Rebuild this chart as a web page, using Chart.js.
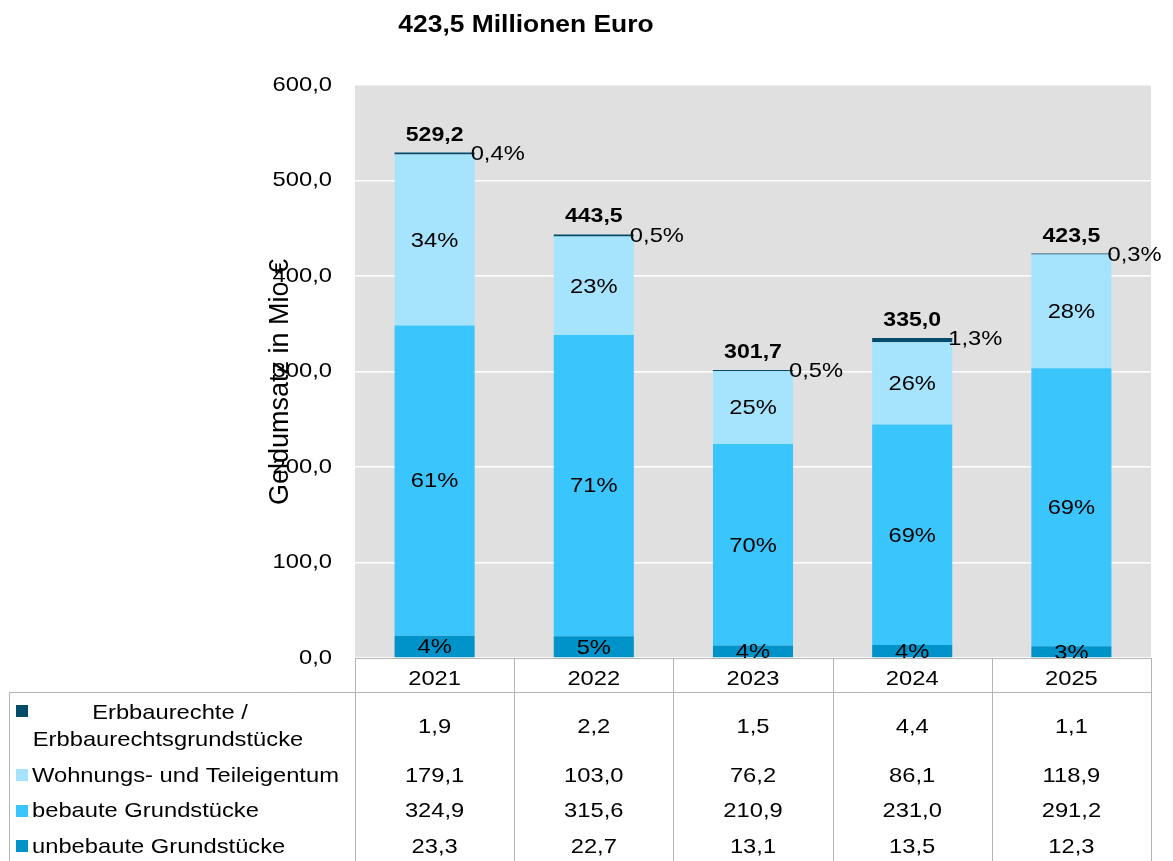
<!DOCTYPE html>
<html>
<head>
<meta charset="utf-8">
<script src="https://cdn.jsdelivr.net/npm/chart.js@4/dist/chart.umd.min.js"></script>
<style>
html,body{margin:0;padding:0;background:#fff;}
#wrap{width:1173px;height:861px;position:relative;}
</style>
</head>
<body>
<div id="wrap"><canvas id="c" width="1173" height="861"></canvas></div>
<script>
// ---- data ----
const categories = ['2021', '2022', '2023', '2024', '2025'];
const erbbaurechte = [1.9, 2.2, 1.5, 4.4, 1.1];
const wohnungseigentum = [179.1, 103.0, 76.2, 86.1, 118.9];
const bebaut = [324.9, 315.6, 210.9, 231.0, 291.2];
const unbebaut = [23.3, 22.7, 13.1, 13.5, 12.3];
const seriesNames = ['Erbbaurechte / Erbbaurechtsgrundstücke', 'Wohnungs- und Teileigentum', 'bebaute Grundstücke', 'unbebaute Grundstücke'];
const chartTitle = '423,5 Millionen Euro';
const yAxisTitle = 'Geldumsatz in Mio €';
const yMin = 0, yMax = 600, yStep = 100;

const FONT = '"Liberation Sans", Arial, sans-serif';
const COLORS = { erb: '#034b68', woh: '#a6e4fd', beb: '#3ac5fd', unb: '#0093c9' };
const fmt = v => v.toFixed(1).replace('.', ',');
const SX = 1.13; // horizontal text stretch seen in the reference

const totals = categories.map((_, i) => erbbaurechte[i] + wohnungseigentum[i] + bebaut[i] + unbebaut[i]);

// draw horizontally stretched text
function sText(ctx, text, x, y, align, font, baseline, sx) {
  sx = sx || SX;
  ctx.save();
  ctx.font = font;
  ctx.textAlign = 'left';
  ctx.textBaseline = baseline || 'alphabetic';
  const w = ctx.measureText(text).width * sx;
  let x0 = x;
  if (align === 'center') x0 = x - w / 2;
  else if (align === 'right') x0 = x - w;
  ctx.translate(x0, y);
  ctx.scale(sx, 1);
  ctx.fillText(text, 0, 0);
  ctx.restore();
}

const bgPlugin = {
  id: 'bg',
  beforeDraw(chart) {
    const { ctx, chartArea: a } = chart;
    ctx.save();
    ctx.fillStyle = '#ffffff';
    ctx.fillRect(0, 0, chart.width, chart.height);
    ctx.fillStyle = '#e0e0e0';
    ctx.fillRect(a.left, a.top, a.right - a.left, a.bottom - a.top);
    ctx.restore();
  }
};

const R = '21px ' + FONT;
const B = 'bold 21px ' + FONT;

const labelPlugin = {
  id: 'labels',
  afterDatasetsDraw(chart) {
    const ctx = chart.ctx;
    ctx.save();
    ctx.fillStyle = '#000';
    // datasets: 0 unbebaut, 1 bebaut, 2 wohnung, 3 erbbau
    [0, 1, 2].forEach(d => {
      const meta = chart.getDatasetMeta(d);
      const data = chart.data.datasets[d].data;
      meta.data.forEach((el, i) => {
        const pct = Math.round(data[i] / totals[i] * 100) + '%';
        sText(ctx, pct, el.x, (el.y + el.base) / 2 + 1, 'center', R, 'middle');
      });
    });
    const em = chart.getDatasetMeta(3);
    em.data.forEach((el, i) => {
      const pct = (erbbaurechte[i] / totals[i] * 100).toFixed(1).replace('.', ',') + '%';
      sText(ctx, pct, el.x + el.width / 2 - 4, el.y + 1.5, 'left', R, 'middle');
      sText(ctx, fmt(totals[i]), el.x, el.y - 12, 'center', B, 'alphabetic', 1.1);
    });
    ctx.restore();
  },
  afterDraw(chart) {
    const ctx = chart.ctx;
    const a = chart.chartArea;
    const xs = chart.scales.x;
    const ys = chart.scales.y;
    const cw = (a.right - a.left) / categories.length;
    ctx.save();
    ctx.fillStyle = '#000';
    // title
    sText(ctx, chartTitle, 526, 32, 'center', 'bold 24px ' + FONT, 'alphabetic', 1.1);
    // y tick labels (from the library's y scale)
    ys.ticks.forEach(t => {
      sText(ctx, fmt(t.value), 332, ys.getPixelForValue(t.value), 'right', R, 'middle');
    });
    // y axis title
    ctx.save();
    ctx.translate(281, 382);
    ctx.rotate(-Math.PI / 2);
    ctx.font = '27px ' + FONT;
    ctx.textAlign = 'center';
    ctx.textBaseline = 'middle';
    ctx.fillText(yAxisTitle, 0, 0);
    ctx.restore();

    // table grid
    const H = chart.height;
    const rowTop = a.bottom + 34;
    ctx.strokeStyle = '#b4b4b4';
    ctx.lineWidth = 1;
    ctx.beginPath();
    ctx.moveTo(a.left, Math.round(a.bottom) + 0.5);
    ctx.lineTo(a.right, Math.round(a.bottom) + 0.5);
    ctx.moveTo(9, Math.round(rowTop) + 0.5);
    ctx.lineTo(a.right, Math.round(rowTop) + 0.5);
    ctx.moveTo(9.5, rowTop);
    ctx.lineTo(9.5, H);
    for (let i = 0; i <= categories.length; i++) {
      const x = Math.round(i < categories.length ? xs.getPixelForValue(i) - cw / 2 : xs.getPixelForValue(i - 1) + cw / 2) + 0.5;
      ctx.moveTo(x, a.bottom);
      ctx.lineTo(x, H);
    }
    ctx.stroke();

    // years and values
    const rows = [erbbaurechte, wohnungseigentum, bebaut, unbebaut];
    const rowBase = [733, 782, 817, 853];
    categories.forEach((c, i) => {
      const x = xs.getPixelForValue(i);
      sText(ctx, c, x, 685, 'center', R);
      rows.forEach((r, k) => sText(ctx, fmt(r[i]), x, rowBase[k], 'center', R));
    });
    // legend keys
    const keyCols = [COLORS.erb, COLORS.woh, COLORS.beb, COLORS.unb];
    const keyTop = [705, 769, 805, 840];
    keyCols.forEach((col, k) => {
      ctx.fillStyle = col;
      ctx.fillRect(16, keyTop[k], 12, 12);
    });
    ctx.fillStyle = '#000';
    const parts = seriesNames[0].split(' / ');
    sText(ctx, parts[0] + ' /', 170, 719, 'center', R);
    sText(ctx, parts[1], 168, 746, 'center', R);
    for (let k = 1; k < 4; k++) sText(ctx, seriesNames[k], 32, rowBase[k], 'left', R);
    ctx.restore();
  }
};

const common = { barPercentage: 0.503, categoryPercentage: 1.0, borderWidth: 0 };
new Chart(document.getElementById('c'), {
  type: 'bar',
  data: {
    labels: categories,
    datasets: [
      Object.assign({ label: seriesNames[3], data: unbebaut, backgroundColor: COLORS.unb }, common),
      Object.assign({ label: seriesNames[2], data: bebaut, backgroundColor: COLORS.beb }, common),
      Object.assign({ label: seriesNames[1], data: wohnungseigentum, backgroundColor: COLORS.woh }, common),
      Object.assign({ label: seriesNames[0], data: erbbaurechte, backgroundColor: COLORS.erb }, common)
    ]
  },
  options: {
    responsive: false,
    animation: false,
    layout: { padding: { top: 85, right: 22, bottom: 203, left: 0 } },
    plugins: { legend: { display: false }, title: { display: false }, tooltip: { enabled: false } },
    scales: {
      x: { stacked: true, display: false, grid: { display: false } },
      y: {
        stacked: true,
        min: yMin, max: yMax,
        border: { display: false },
        grid: { color: '#ffffff', lineWidth: 1.5, drawTicks: false },
        ticks: { stepSize: yStep, display: false },
        afterFit(scale) { scale.width = 355; }
      }
    }
  },
  plugins: [bgPlugin, labelPlugin]
});
</script>
</body>
</html>
